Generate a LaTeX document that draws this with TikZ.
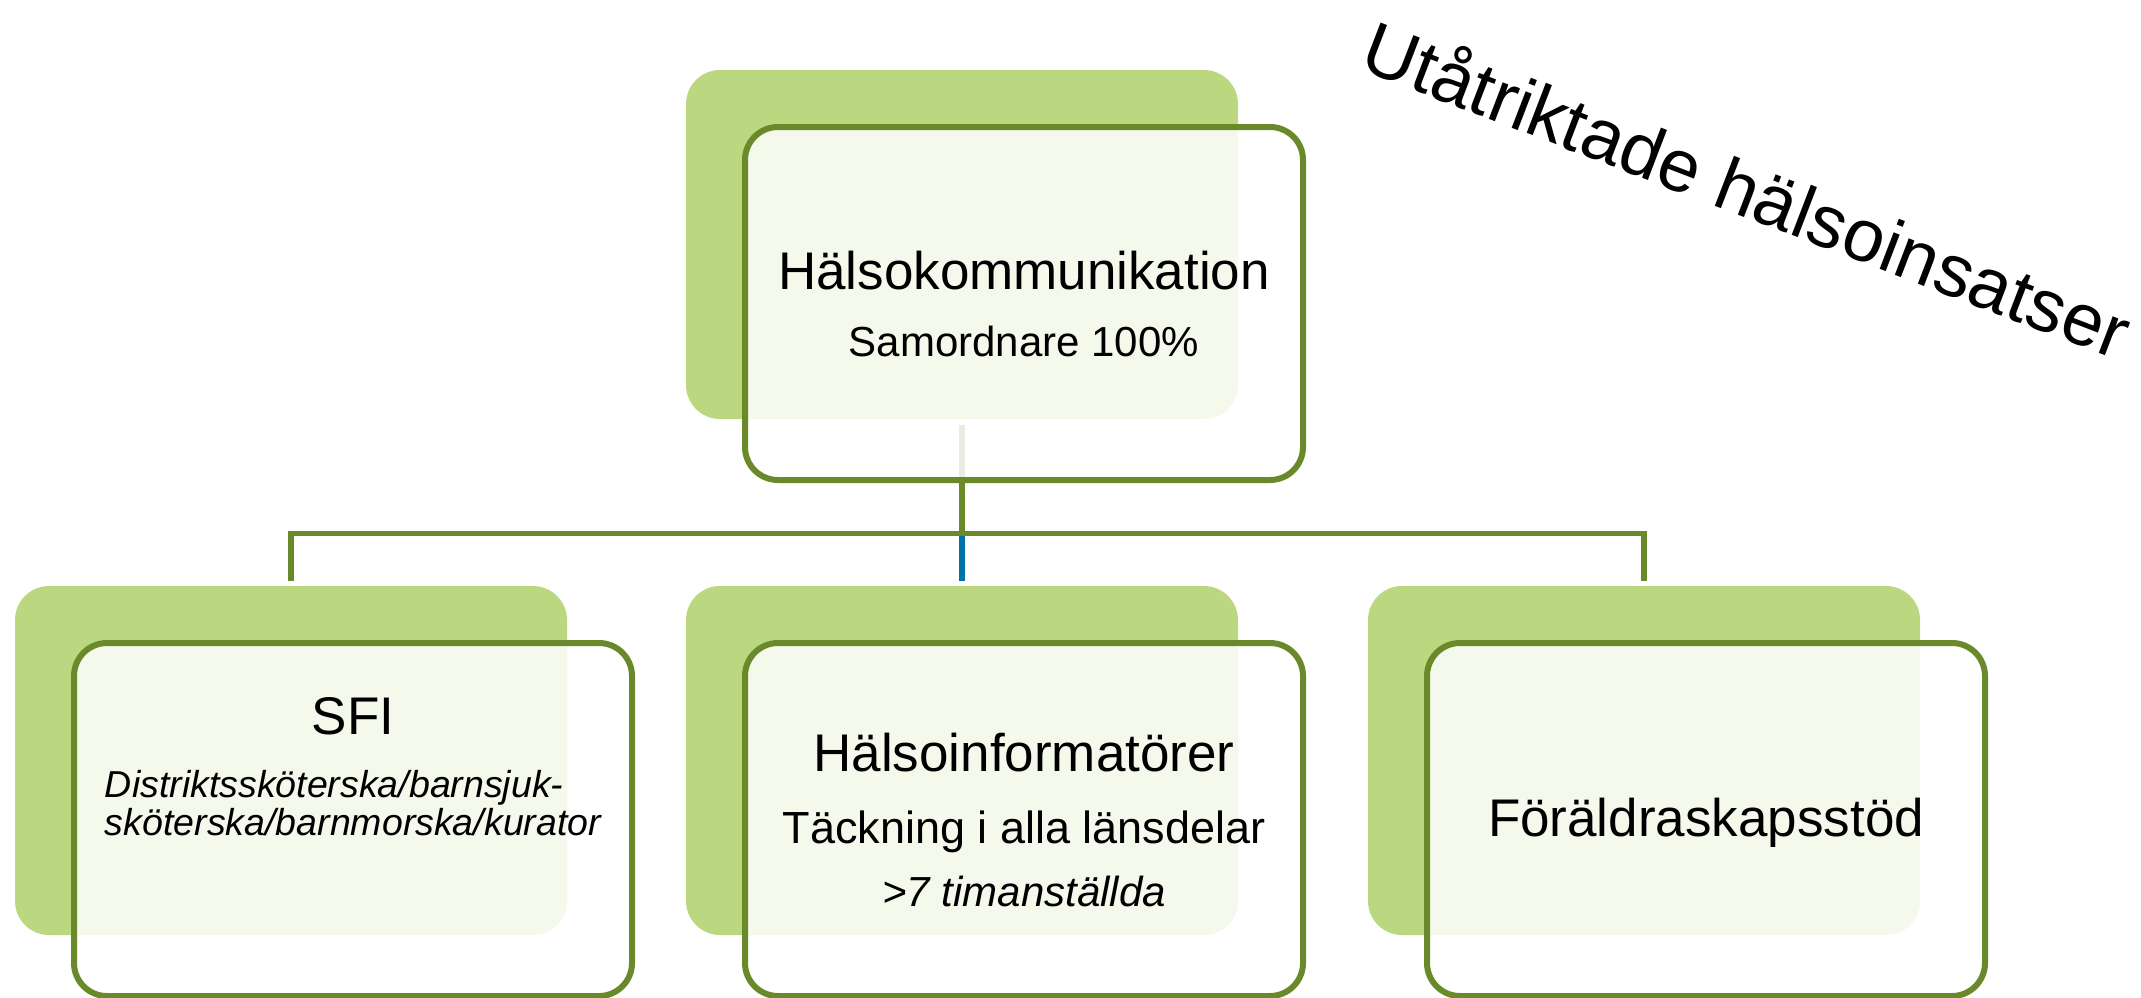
\documentclass[tikz,border=0pt]{standalone}
\usepackage{fontspec}
\setmainfont{Liberation Sans}
\definecolor{backgreen}{RGB}{187,216,128}
\definecolor{edgegreen}{RGB}{106,137,43}
\definecolor{linkblue}{RGB}{0,114,170}

\begin{document}
\begin{tikzpicture}[x=0.5pt, y=-0.5pt,
	backbox/.style={fill=backgreen, rounded corners=17pt, minimum width=276pt, minimum height=174.5pt, inner sep=0pt},
	frontbox/.style={draw=edgegreen, line width=3pt, fill=white, fill opacity=0.85, rounded corners=16.5pt, minimum width=279pt, minimum height=176.5pt, inner sep=0pt},
	link/.style={draw=edgegreen, line width=2.8pt},
	headtext/.style={font=\fontsize{26.5}{33.5}\selectfont, align=center, inner sep=0pt}]
	\useasboundingbox (0,0) rectangle (2141,997);
	% green boxes behind
	\node[backbox] (halsoB) at (962,244.5) {};
	\node[backbox] (sfiB) at (291,760.5) {};
	\node[backbox] (infoB) at (962,760.5) {};
	\node[backbox] (foraldB) at (1644,760.5) {};
	% links
	\coordinate (hub) at ([yshift=-57pt]halsoB.south);
	\draw[link, draw=linkblue] (hub) -- ([yshift=2.5pt]infoB.north);
	\draw[link] ([yshift=-3pt]halsoB.south) -- (hub);
	\draw[link] ([yshift=2.5pt]sfiB.north) |- (hub) -| ([yshift=2.5pt]foraldB.north);
	% white boxes in front
	\node[frontbox] (halsoF) at ([xshift=31pt, yshift=-29.5pt]halsoB.center) {};
	\node[frontbox] (sfiF) at ([xshift=31pt, yshift=-29.5pt]sfiB.center) {};
	\node[frontbox] (infoF) at ([xshift=31pt, yshift=-29.5pt]infoB.center) {};
	\node[frontbox] (foraldF) at ([xshift=31pt, yshift=-29.5pt]foraldB.center) {};
	% texts
	\node[headtext] (halsoT) at (halsoF.center) {Hälsokommunikation\\{\fontsize{21}{21}\selectfont Samordnare 100\%}};
	\node[headtext, yshift=51.75pt] (sfiT) at (sfiF.center) {SFI};
	\node[align=left, inner sep=0pt, font=\fontsize{18.75}{19}\selectfont\itshape, yshift=8.4pt] (sfiSub) at (sfiF.center) {Distriktssköterska/barnsjuk-\\sköterska/barnmorska/kurator};
	\node[headtext, font=\fontsize{26.5}{31.5}\selectfont] (infoT) at (infoF.center) {Hälsoinformatörer\\[4.5pt]{\fontsize{22.5}{22.5}\selectfont Täckning i alla länsdelar}\\{\fontsize{21}{21}\selectfont\itshape >7 timanställda}};
	\node[headtext, yshift=-1.5pt] (foraldT) at (foraldF.center) {Föräldraskapsstöd};
	\node[font=\fontsize{37}{37}\selectfont, rotate=-21, inner sep=0pt] (title) at (1748,187) {Utåtriktade hälsoinsatser};
\end{tikzpicture}
\end{document}
